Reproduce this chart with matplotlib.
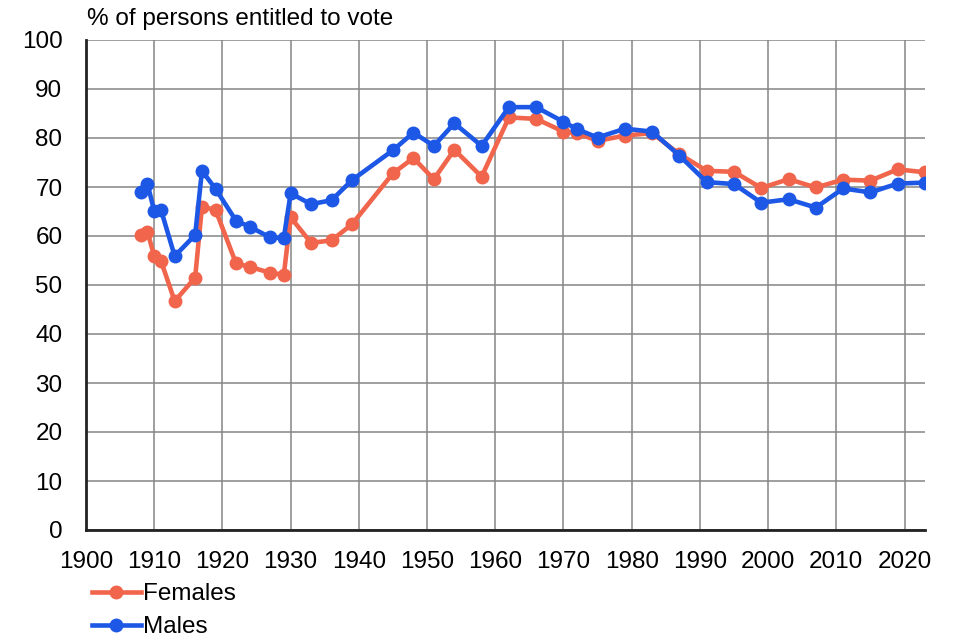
import matplotlib.pyplot as plt

# Election years
years = [1908, 1909, 1910, 1911, 1913, 1916, 1917, 1919, 1922, 1924, 1927, 1929,
         1930, 1933, 1936, 1939, 1945, 1948, 1951, 1954, 1958, 1962, 1966, 1970,
         1972, 1975, 1979, 1983, 1987, 1991, 1995, 1999, 2003, 2007, 2011, 2015,
         2019, 2023]

# Turnout, % of persons entitled to vote
females = [60.3, 60.9, 55.9, 54.9, 46.7, 51.5, 66.0, 65.3, 54.4, 53.7, 52.5, 52.1,
           63.8, 58.6, 59.1, 62.4, 72.8, 75.9, 71.6, 77.6, 72.1, 84.2, 83.9, 81.3,
           81.0, 79.4, 80.5, 81.0, 76.7, 73.3, 73.1, 69.8, 71.6, 69.9, 71.5, 71.3,
           73.6, 73.0]
males = [69.0, 70.7, 65.1, 65.3, 55.9, 60.2, 73.3, 69.6, 63.1, 61.9, 59.7, 59.6,
         68.7, 66.5, 67.3, 71.4, 77.5, 81.1, 78.4, 83.0, 78.4, 86.3, 86.3, 83.3,
         81.8, 80.1, 81.9, 81.3, 76.4, 71.0, 70.6, 66.8, 67.5, 65.8, 69.7, 68.9,
         70.7, 70.9]

plt.rcParams['font.family'] = ['Liberation Sans', 'DejaVu Sans']
fs = 17.5

fig = plt.figure(figsize=(9.6, 6.41), dpi=100)
fig.subplots_adjust(left=86/960, right=925/960, top=1-40/641, bottom=1-530/641)
ax = fig.add_subplot(111)

ax.plot(years, females, color='#F0654B', lw=3.3, marker='o', ms=9, label='Females', zorder=3)
ax.plot(years, males, color='#1C57E6', lw=3.3, marker='o', ms=9, label='Males', zorder=4)

ax.set_xlim(1900, 2023)
ax.set_ylim(0, 100)
ax.set_xticks(range(1900, 2021, 10))
ax.set_yticks(range(0, 101, 10))
ax.tick_params(length=0, labelsize=fs)
ax.tick_params(axis='y', pad=17)
ax.tick_params(axis='x', pad=15)

ax.grid(True, color='#858585', lw=1.1)
ax.set_axisbelow(True)
for s in ['top', 'right']:
    ax.spines[s].set_visible(False)
for s in ['left', 'bottom']:
    ax.spines[s].set_linewidth(2)
    ax.spines[s].set_color('#222222')

fig.text(87/960, 1-19/641, '% of persons entitled to vote', fontsize=fs, va='center')

fig.legend(loc='upper left', bbox_to_anchor=(80/960, 1-571/641), frameon=False,
           fontsize=fs, handlelength=2.0, handletextpad=0.1, labelspacing=0.45,
           borderpad=0)

fig.savefig('out.png', dpi=100)
